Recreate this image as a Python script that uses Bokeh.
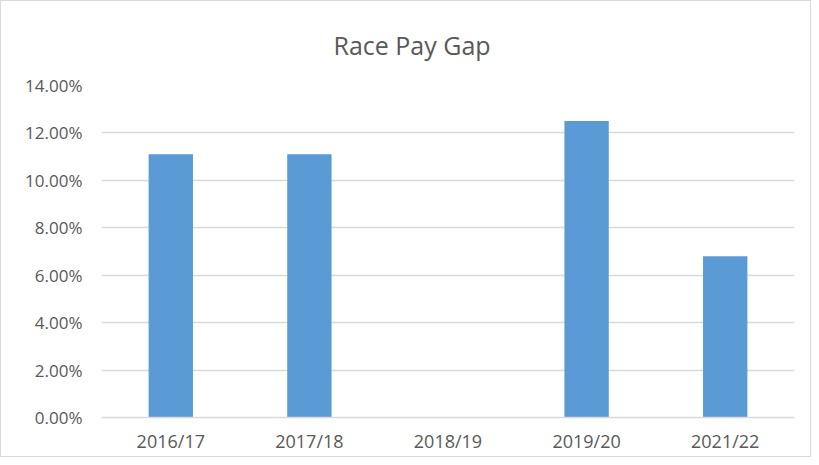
from bokeh.plotting import figure
from bokeh.models import FixedTicker, NumeralTickFormatter, ColumnDataSource
from bokeh.embed import file_html
from bokeh.resources import INLINE

categories = ["2016/17", "2017/18", "2018/19", "2019/20", "2021/22"]
pay_gap = [0.111, 0.111, float("nan"), 0.125, 0.068]
y_ticks = [0.0, 0.02, 0.04, 0.06, 0.08, 0.10, 0.12, 0.14]

FONT = "Open Sans"
TXT = "#595959"
GRID = "#d9d9d9"

source = ColumnDataSource(data=dict(cat=categories, val=pay_gap))

p = figure(
    x_range=categories, y_range=(0, 0.14),
    width=811, height=457,
    output_backend="svg", toolbar_location=None,
    title="Race Pay Gap",
    min_border_left=100, min_border_right=18,
    min_border_top=84, min_border_bottom=41,
)
p.styles = {"border": "1px solid #d9d9d9", "box-sizing": "border-box"}

p.vbar(x="cat", top="val", width=0.32, source=source,
       fill_color="#5b9bd5", line_color=None)

p.title.text_font = FONT
p.title.text_font_size = "25px"
p.title.text_font_style = "normal"
p.title.text_color = TXT
p.title.align = "left"
p.title.offset = 232
p.title.standoff = 48

p.outline_line_color = None
p.background_fill_color = "white"
p.border_fill_color = "white"

p.xgrid.grid_line_color = None
p.ygrid.grid_line_color = GRID
p.ygrid.grid_line_width = 1.5

p.yaxis.ticker = FixedTicker(ticks=y_ticks)
p.yaxis.formatter = NumeralTickFormatter(format="0.00%")
p.yaxis.axis_line_color = None
p.yaxis.major_tick_line_color = None
p.yaxis.minor_tick_line_color = None
p.yaxis.major_tick_out = 0
p.yaxis.major_tick_in = 0
p.yaxis.major_label_standoff = 19
p.yaxis.major_label_text_font = FONT
p.yaxis.major_label_text_font_size = "17px"
p.yaxis.major_label_text_color = TXT

p.xaxis.axis_line_color = GRID
p.xaxis.axis_line_width = 1.5
p.xaxis.major_tick_line_color = None
p.xaxis.minor_tick_line_color = None
p.xaxis.major_tick_out = 0
p.xaxis.major_tick_in = 0
p.xaxis.major_label_standoff = 11
p.xaxis.major_label_text_font = FONT
p.xaxis.major_label_text_font_size = "18px"
p.xaxis.major_label_text_color = TXT

open("out.html", "w").write(file_html(p, INLINE))
